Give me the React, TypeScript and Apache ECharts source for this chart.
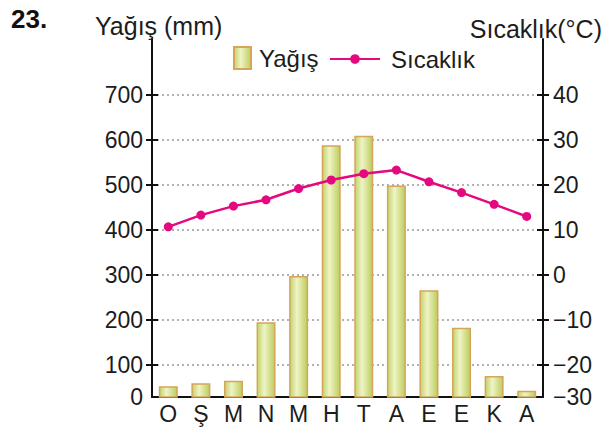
import React, { useEffect, useRef } from "react";
import * as echarts from "echarts";

const months = ["O", "Ş", "M", "N", "M", "H", "T", "A", "E", "E", "K", "A"];
const rainfall = [53, 60, 65, 195, 298, 588, 609, 499, 266, 183, 76, 43];
const temperature = [10.7, 13.3, 15.3, 16.7, 19.2, 21.1, 22.5, 23.3, 20.7, 18.3, 15.7, 13.0];
const rainTicks = [100, 200, 300, 400, 500, 600, 700];
const tempTicks = [-20, -10, 0, 10, 20, 30, 40];

const RAIN_MIN = 29.2;
const RAIN_MAX = 824;
const TEMP_MIN = -27.08;
const TEMP_MAX = 52.4;

const FONT = "'Liberation Sans', Arial, Helvetica, sans-serif";
const INK = "#1c1c1c";

export default function App() {
  const ref = useRef<HTMLDivElement>(null);
  useEffect(() => {
    if (!ref.current) return;
    const chart = echarts.init(ref.current, null, { renderer: "svg" });
    const barFill = new echarts.graphic.LinearGradient(0, 0, 1, 0, [
      { offset: 0, color: "#c3d36a" },
      { offset: 0.4, color: "#eef4c6" },
      { offset: 1, color: "#bccd5e" },
    ]);
    const axisBase = {
      type: "value" as const,
      axisLine: { show: true, onZero: false, lineStyle: { color: "#111", width: 2 } },
      splitLine: { show: false },
    };
    chart.setOption({
      animation: false,
      backgroundColor: "#fff",
      textStyle: { fontFamily: FONT },
      title: [
        { text: "23.", left: 6, top: 1, textStyle: { fontFamily: FONT, fontSize: 26, fontWeight: "bold", color: "#111" } },
        { text: "Yağış (mm)", left: 90, top: 8, textStyle: { fontFamily: FONT, fontSize: 25, fontWeight: "normal", color: INK } },
        { text: "Sıcaklık(°C)", right: 3, top: 11, textStyle: { fontFamily: FONT, fontSize: 25, fontWeight: "normal", color: INK } },
      ],
      legend: [
        {
          data: [{ name: "Yağış", icon: "rect" }],
          left: 228,
          top: 41,
          itemWidth: 17,
          itemHeight: 22,
          textStyle: { fontFamily: FONT, fontSize: 24, color: INK, padding: [0, 0, 0, 3] },
        },
        {
          data: ["Sıcaklık"],
          left: 324,
          top: 42,
          itemWidth: 50,
          itemHeight: 12,
          textStyle: { fontFamily: FONT, fontSize: 24, color: INK, padding: [0, 0, 0, 6] },
        },
      ],
      grid: { left: 152, right: 67, top: 39, bottom: 35, containLabel: false },
      xAxis: {
        type: "category",
        data: months,
        axisLine: { show: true, onZero: false, lineStyle: { color: "#111", width: 2 } },
        axisTick: { show: false },
        axisLabel: { fontFamily: FONT, fontSize: 23, color: INK, margin: 5 },
      },
      yAxis: [
        {
          ...axisBase,
          position: "left",
          min: RAIN_MIN,
          max: RAIN_MAX,
          axisTick: { show: true, customValues: rainTicks, length: 6, lineStyle: { color: "#111", width: 2 } },
          splitLine: { show: true, lineStyle: { color: "#999", type: [2, 3], width: 1.5 } },
          axisLabel: {
            customValues: [RAIN_MIN, ...rainTicks],
            formatter: (v: number) => (v < 50 ? "0" : String(v)),
            fontFamily: FONT,
            fontSize: 23,
            color: INK,
            margin: 9,
          },
        },
        {
          ...axisBase,
          position: "right",
          min: TEMP_MIN,
          max: TEMP_MAX,
          axisTick: { show: true, customValues: tempTicks, length: 6, lineStyle: { color: "#111", width: 2 } },
          axisLabel: {
            customValues: [TEMP_MIN, ...tempTicks],
            formatter: (v: number) => (v < -25 ? "−30" : v < 0 ? "−" + Math.abs(v) : String(v)),
            fontFamily: FONT,
            fontSize: 23,
            color: INK,
            margin: 10,
          },
        },
        {
          type: "value",
          position: "left",
          min: RAIN_MIN,
          max: RAIN_MAX,
          axisLine: { show: false },
          splitLine: { show: false },
          axisLabel: { show: false },
          axisTick: { show: true, inside: true, customValues: rainTicks, length: 6, lineStyle: { color: "#111", width: 2 } },
        },
        {
          type: "value",
          position: "right",
          min: TEMP_MIN,
          max: TEMP_MAX,
          axisLine: { show: false },
          splitLine: { show: false },
          axisLabel: { show: false },
          axisTick: { show: true, inside: true, customValues: tempTicks, length: 6, lineStyle: { color: "#111", width: 2 } },
        },
      ],
      series: [
        {
          name: "Yağış",
          type: "bar",
          yAxisIndex: 0,
          data: rainfall,
          barWidth: 19,
          itemStyle: { color: barFill, borderColor: "#d6a45a", borderWidth: 1.5 },
          z: 2,
        },
        {
          name: "Sıcaklık",
          type: "line",
          yAxisIndex: 1,
          data: temperature,
          symbol: "circle",
          symbolSize: 9,
          lineStyle: { color: "#e5097f", width: 2.5 },
          itemStyle: { color: "#e5097f" },
          z: 3,
        },
      ],
    });
    return () => chart.dispose();
  }, []);
  return <div ref={ref} style={{ position: "fixed", left: 0, top: 0, width: 610, height: 432 }} />;
}
